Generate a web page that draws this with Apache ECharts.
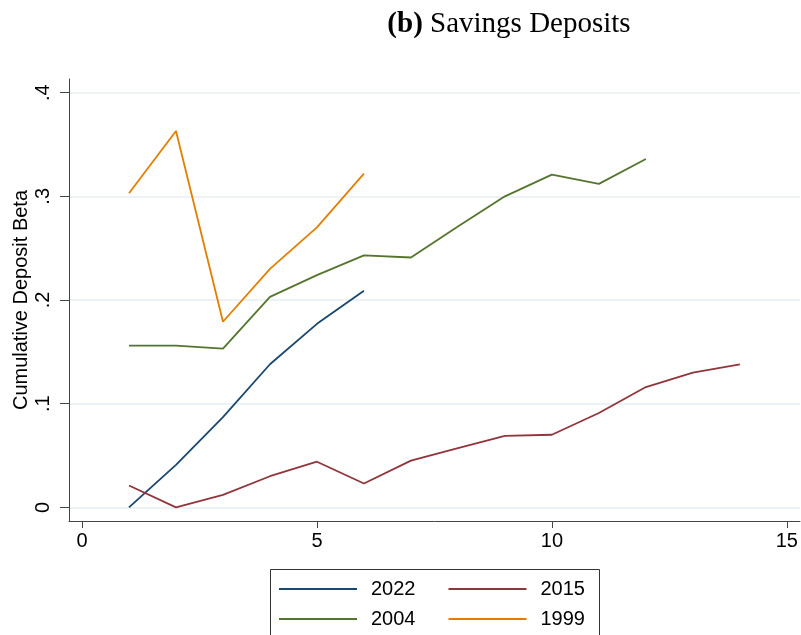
<!DOCTYPE html>
<html>
<head>
<meta charset="utf-8">
<script src="https://cdn.jsdelivr.net/npm/echarts@6/dist/echarts.min.js"></script>
<style>
  html, body { margin: 0; padding: 0; background: #fff; }
  #chart { width: 801px; height: 635px; }
</style>
</head>
<body>
<div id="chart"></div>
<script>
// Horizon (quarters since first hike) and cumulative deposit betas per cycle
const horizon = [1, 2, 3, 4, 5, 6, 7, 8, 9, 10, 11, 12, 13, 14];
const beta2022 = [0, 0.041, 0.087, 0.138, 0.177, 0.209];
const beta2015 = [0.021, 0, 0.012, 0.030, 0.044, 0.023, 0.045, 0.057, 0.069, 0.070, 0.091, 0.116, 0.130, 0.138];
const beta2004 = [0.156, 0.156, 0.153, 0.203, 0.224, 0.243, 0.241, 0.271, 0.300, 0.321, 0.312, 0.336];
const beta1999 = [0.303, 0.363, 0.179, 0.230, 0.270, 0.322];

const xTicks = [0, 5, 10, 15];
const yTicks = [0, 0.1, 0.2, 0.3, 0.4];

const cycles = [
  { name: '2022', values: beta2022, color: '#1a476f' },
  { name: '2015', values: beta2015, color: '#90353b' },
  { name: '2004', values: beta2004, color: '#55752f' },
  { name: '1999', values: beta1999, color: '#e37e00' }
];

const pairs = vals => vals.map((v, i) => [horizon[i], v]);

const sans = 'Liberation Sans, Arial, sans-serif';
const serif = 'Liberation Serif, Times New Roman, serif';

function legendRow(top, names) {
  return {
    orient: 'horizontal',
    left: 279,
    top: top,
    padding: 0,
    data: names,
    icon: 'rect',
    itemWidth: 78,
    itemHeight: 2,
    itemGap: 33,
    textStyle: { fontFamily: sans, fontSize: 20, color: '#000', padding: [0, 0, 0, 9] }
  };
}

const chart = echarts.init(document.getElementById('chart'), null, { renderer: 'canvas' });
chart.setOption({
  animation: false,
  backgroundColor: '#fff',
  title: {
    text: '{b|(b) }{n|Savings Deposits}',
    left: 504,
    textAlign: 'center',
    top: 5,
    textStyle: {
      fontWeight: 'normal',
      rich: {
        b: { fontFamily: serif, fontSize: 29, fontWeight: 'bold', color: '#000' },
        n: { fontFamily: serif, fontSize: 29, fontWeight: 'normal', color: '#000' }
      }
    }
  },
  grid: { left: 69, right: 1, top: 79, bottom: 114, containLabel: false, outerBoundsMode: 'none' },
  xAxis: {
    type: 'value',
    min: -0.277,
    max: 15.28,
    axisLine: { show: true, onZero: false, lineStyle: { color: '#444', width: 1 } },
    axisTick: { show: true, length: 7, customValues: xTicks, lineStyle: { color: '#444' } },
    axisLabel: {
      customValues: xTicks,
      margin: 10,
      fontFamily: sans,
      fontSize: 20,
      color: '#000'
    },
    splitLine: { show: false }
  },
  yAxis: {
    type: 'value',
    min: -0.0132,
    max: 0.4132,
    name: 'Cumulative Deposit Beta',
    nameLocation: 'middle',
    nameGap: 38,
    nameMoveOverlap: false,
    nameTextStyle: { fontFamily: sans, fontSize: 20, color: '#000' },
    axisLine: { show: true, onZero: false, lineStyle: { color: '#444', width: 1 } },
    axisTick: { show: true, length: 9, customValues: yTicks, lineStyle: { color: '#444' } },
    axisLabel: {
      customValues: yTicks,
      rotate: 90,
      margin: 16,
      fontFamily: sans,
      fontSize: 20,
      color: '#000',
      formatter: v => (Math.abs(v) < 1e-9 ? '0' : String(Math.round(v * 10) / 10).replace(/^0/, ''))
    },
    splitLine: { show: true, lineStyle: { color: '#e6eef2', width: 1.5 } }
  },
  legend: [
    legendRow(579, ['2022', '2015']),
    legendRow(609, ['2004', '1999'])
  ],
  graphic: [{
    type: 'rect',
    shape: { x: 270.5, y: 569.5, width: 329, height: 80 },
    style: { fill: 'none', stroke: '#333', lineWidth: 1 },
    z: 0,
    silent: true
  }],
  series: cycles.map(c => ({
    name: c.name,
    type: 'line',
    data: pairs(c.values),
    symbol: 'none',
    lineStyle: { color: c.color, width: 1.8 },
    itemStyle: { color: c.color }
  }))
});
</script>
</body>
</html>
